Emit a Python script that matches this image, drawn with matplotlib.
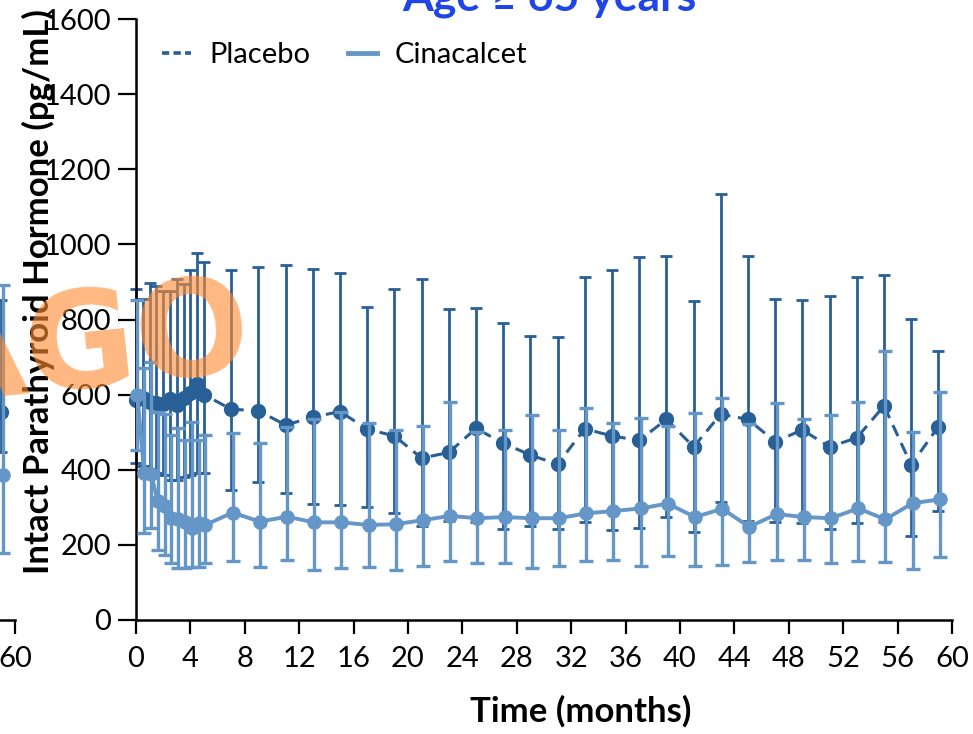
import matplotlib
matplotlib.use("Agg")
import matplotlib.pyplot as plt
from matplotlib.lines import Line2D
import numpy as np

# Visit times (months)
months = [0, 0.5, 1, 1.5, 2, 2.5, 3, 3.5, 4, 4.5, 5,
          7, 9, 11, 13, 15, 17, 19, 21, 23, 25, 27, 29, 31, 33, 35,
          37, 39, 41, 43, 45, 47, 49, 51, 53, 55, 57, 59]

# Placebo: central value with lower / upper error limits (pg/mL)
placebo = [586, 590, 580, 578, 575, 588, 572, 591, 604, 628, 600,
           561, 557, 519, 540, 555, 508, 490, 431, 446, 510, 471, 439, 415, 509, 490,
           478, 534, 461, 548, 534, 475, 506, 461, 485, 570, 413, 515]
placebo_lo = [418, 410, 400, 391, 385, 373, 373, 380, 386, 391, 391,
              346, 368, 339, 308, 305, 300, 284, 251, 264, 262, 241, 250, 241, 260, 240,
              244, 273, 235, 315, 264, 262, 259, 241, 259, 262, 224, 289]
placebo_hi = [881, 855, 898, 889, 876, 876, 908, 894, 932, 976, 954,
              932, 939, 944, 935, 923, 832, 880, 909, 829, 830, 790, 756, 753, 914, 932,
              967, 970, 850, 1134, 969, 855, 852, 863, 912, 918, 801, 717]

# Cinacalcet: central value with lower / upper error limits (pg/mL)
cinacalcet = [600, 392, 390, 316, 303, 272, 270, 262, 244, 257, 253,
              286, 262, 275, 260, 260, 253, 255, 266, 277, 271, 274, 271, 271, 284, 290,
              297, 310, 274, 296, 248, 282, 274, 271, 297, 268, 311, 321]
cinacalcet_lo = [453, 231, 244, 186, 173, 151, 138, 138, 140, 142, 151,
                 158, 140, 161, 133, 139, 142, 133, 145, 157, 151, 153, 139, 145, 157, 160,
                 144, 171, 145, 146, 155, 161, 160, 153, 158, 155, 136, 167]
cinacalcet_hi = [852, 670, 688, 555, 548, 493, 511, 479, 528, 479, 493,
                 499, 470, 515, 534, 553, 525, 506, 517, 581, 500, 506, 546, 506, 564, 525,
                 539, 516, 550, 590, 522, 579, 536, 546, 581, 716, 500, 608]

# Last visit of the neighbouring (younger age group) panel
prev_months = [59]
prev_placebo, prev_placebo_lo, prev_placebo_hi = [553], [448], [853]
prev_cinacalcet, prev_cinacalcet_lo, prev_cinacalcet_hi = [386], [178], [892]

xticks = list(range(0, 61, 4))
yticks = list(range(0, 1601, 200))

DARK = "#285f96"
LIGHT = "#6497c8"
TITLE_BLUE = "#1f45e6"
FONT = ["Lato", "DejaVu Sans"]

plt.rcParams["font.family"] = FONT

W, H = 973, 734
fig = plt.figure(figsize=(W / 100, H / 100), dpi=100)


def style_axis(a, show_left=True):
    for s in ("top", "right"):
        a.spines[s].set_visible(False)
    a.spines["left"].set_visible(show_left)
    for s in ("left", "bottom"):
        a.spines[s].set_linewidth(1.8)
    a.set_xlim(0, 60)
    a.set_ylim(0, 1600)
    a.set_xticks(xticks)
    a.set_yticks(yticks)
    a.tick_params(axis="x", direction="out", length=10, width=1.6,
                  labelsize=21, pad=9)
    a.tick_params(axis="y", direction="out", length=13, width=1.6,
                  labelsize=21, pad=5, left=show_left, labelleft=show_left)
    a.patch.set_alpha(0)


def draw_series(a, x, y, lo, hi, dx, color, ls, lw, ms, elw, cap, z):
    x = np.asarray(x, float) + dx
    y = np.asarray(y, float)
    err = [y - np.asarray(lo, float), np.asarray(hi, float) - y]
    a.errorbar(x, y, yerr=err, fmt="none", ecolor=color, elinewidth=elw,
               capsize=cap, capthick=elw, zorder=z, clip_on=False)
    a.plot(x, y, color=color, ls=ls, lw=lw, marker="o", ms=ms,
           zorder=z + 0.5, clip_on=False)


# neighbouring panel, only its right end is in view
ax0 = fig.add_axes([(15 - 816) / W, 114 / H, 816 / W, 601 / H])
style_axis(ax0, show_left=False)
ax0.set_xticks([60])
draw_series(ax0, prev_months, prev_placebo, prev_placebo_lo, prev_placebo_hi,
            0.0, DARK, (0, (4, 2.5)), 2.2, 10, 2.0, 4.5, 2)
draw_series(ax0, prev_months, prev_cinacalcet, prev_cinacalcet_lo, prev_cinacalcet_hi,
            0.1, LIGHT, "-", 2.8, 9.5, 2.4, 5, 3)

# main panel
ax = fig.add_axes([136 / W, 114 / H, 816 / W, 601 / H])
style_axis(ax)
draw_series(ax, months, placebo, placebo_lo, placebo_hi,
            0.0, DARK, (0, (4, 2.5)), 2.2, 10, 2.0, 4.5, 2)
draw_series(ax, months, cinacalcet, cinacalcet_lo, cinacalcet_hi,
            0.1, LIGHT, "-", 2.8, 9.5, 2.4, 5, 3)

fig.text(581 / W, 1 - 722 / H, "Time (months)", ha="center", va="baseline",
         fontsize=25, fontweight="bold")
fig.text(38 / W, 1 - 292 / H, "Intact Parathyroid Hormone (pg/mL)",
         rotation=90, ha="center", va="center", fontsize=25, fontweight="bold")

fig.text(549 / W, 1 - 10 / H, "Age \u2265 65 years", ha="center", va="baseline",
         fontsize=32, fontweight="bold", color=TITLE_BLUE)

handles = [Line2D([], [], color=DARK, ls=(0, (2, 1.2)), lw=2.6),
           Line2D([], [], color=LIGHT, ls="-", lw=3.5)]
ax.legend(handles, ["Placebo", "Cinacalcet"], ncol=2, frameon=False,
          loc="upper left", bbox_to_anchor=(0.0, 1.005), fontsize=21,
          handlelength=1.0, handletextpad=0.6, columnspacing=1.3)

# watermark
fig.text(254 / W, 1 - 370 / H, "AGO", fontsize=97, fontweight="bold",
         color="#ff8c32", alpha=0.62, rotation=6, rotation_mode="anchor",
         ha="right", va="baseline", family=["DejaVu Sans"], zorder=10)

fig.savefig("out.png", dpi=100)
